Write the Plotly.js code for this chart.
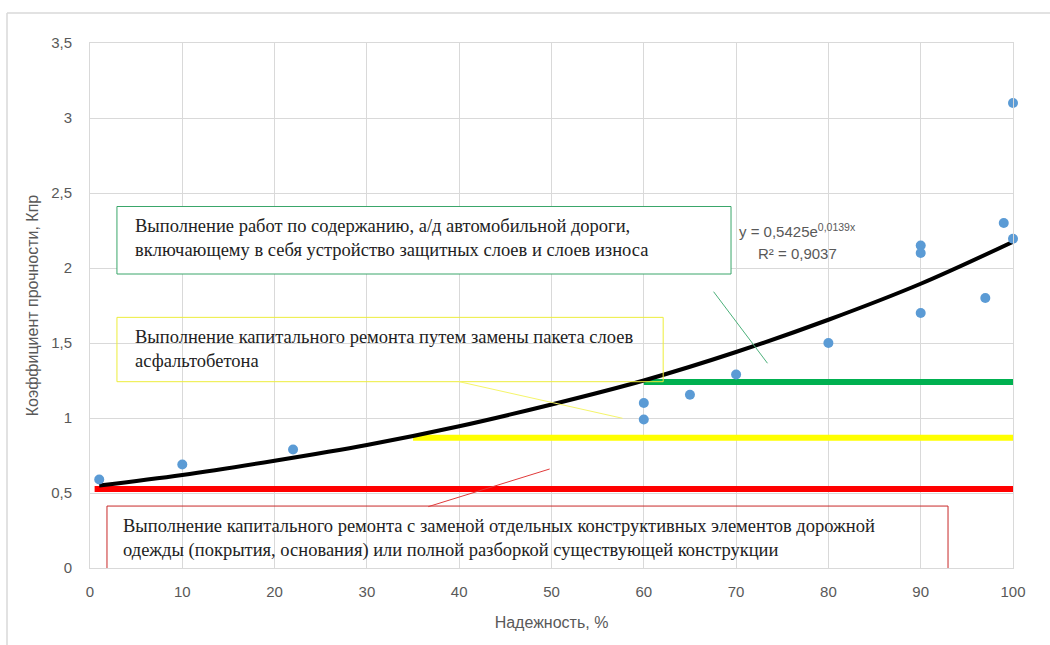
<!DOCTYPE html>
<html>
<head>
<meta charset="utf-8">
<script src="https://cdn.plot.ly/plotly-3.0.1.min.js"></script>
<style>
  html, body { margin: 0; padding: 0; background: #ffffff; }
  #chart { width: 1050px; height: 645px; }
</style>
</head>
<body>
<div id="chart"></div>
<script>
// Observed data points (reliability %, strength coefficient)
const pointsX = [1, 10, 22, 60, 60, 65, 70, 80, 90, 90, 90, 97, 99, 100, 100];
const pointsY = [0.59, 0.69, 0.79, 1.10, 0.99, 1.155, 1.29, 1.50, 2.15, 2.10, 1.70, 1.80, 2.30, 2.195, 3.10];

// Exponential trendline
const trendX = [1, 10, 20, 30, 40, 50, 60, 70, 80, 90, 100];
const trendY = [0.55, 0.62, 0.715, 0.82, 0.945, 1.09, 1.25, 1.44, 1.655, 1.895, 2.175];

// Threshold lines
const redX = [0.5, 100];    const redY = [0.527, 0.527];
const yellowX = [35, 100];  const yellowY = [0.868, 0.868];
const greenX = [60, 100];   const greenY = [1.24, 1.24];

// Texts
const xTitle = "Надежность, %";
const yTitle = "Коэффициент прочности, Кпр";
const greenText = "Выполнение работ по содержанию, а/д автомобильной дороги,<br>включающему в себя устройство защитных слоев и слоев износа";
const yellowText = "Выполнение капитального ремонта путем замены пакета слоев<br>асфальтобетона";
const redText = "Выполнение капитального ремонта с заменой отдельных конструктивных элементов дорожной<br>одежды (покрытия, основания) или полной разборкой существующей конструкции";
const eqText = "y = 0,5425e<sup>0,0139x</sup>";
const r2Text = "R² = 0,9037";

const traces = [
  { x: redX, y: redY, mode: 'lines', line: { color: '#ff0000', width: 6 }, hoverinfo: 'skip' },
  { x: yellowX, y: yellowY, mode: 'lines', line: { color: '#ffff00', width: 6 }, hoverinfo: 'skip' },
  { x: greenX, y: greenY, mode: 'lines', line: { color: '#00b050', width: 6 }, hoverinfo: 'skip' },
  { x: trendX, y: trendY, mode: 'lines', line: { color: '#000000', width: 4, shape: 'spline' }, hoverinfo: 'skip' },
  { x: pointsX, y: pointsY, mode: 'markers', marker: { color: '#5b9bd5', size: 10 }, cliponaxis: false }
];

const sans = "'Liberation Sans', Arial, sans-serif";
const serif = "'Liberation Serif', 'Times New Roman', serif";

const layout = {
  width: 1050, height: 645,
  margin: { l: 90, r: 37, t: 43, b: 77 },
  paper_bgcolor: '#ffffff', plot_bgcolor: '#ffffff',
  showlegend: false,
  font: { family: sans, color: '#595959', size: 15 },
  xaxis: {
    range: [0, 100], dtick: 10, tick0: 0,
    showgrid: true, gridcolor: '#d9d9d9', gridwidth: 1,
    zeroline: false, showline: true, mirror: true, linecolor: '#d9d9d9', linewidth: 1,
    ticks: '', ticklabelstandoff: 10,
    tickfont: { family: sans, size: 15, color: '#595959' },
    title: { text: xTitle, font: { family: sans, size: 16, color: '#595959' }, standoff: 17 }
  },
  yaxis: {
    range: [0, 3.5], dtick: 0.5, tick0: 0,
    showgrid: true, gridcolor: '#d9d9d9', gridwidth: 1,
    zeroline: false, showline: true, mirror: true, linecolor: '#d9d9d9', linewidth: 1,
    ticks: '', ticklabelstandoff: 14,
    tickfont: { family: sans, size: 15, color: '#595959' },
    title: { text: yTitle, font: { family: sans, size: 16, color: '#595959' }, standoff: 8 }
  },
  separators: ', ',
  shapes: [
    // outer frame (top & left visible)
    { type: 'line', xref: 'paper', yref: 'paper', x0: -83/923, x1: 1 + 40/923, y0: 555/525, y1: 555/525, line: { color: '#d9d9d9', width: 1.5 } },
    { type: 'line', xref: 'paper', yref: 'paper', x0: -83/923, x1: -83/923, y0: 555/525, y1: -80/525, line: { color: '#d9d9d9', width: 1.5 } },
    // boxes
    { type: 'rect', xref: 'x', yref: 'y', x0: 2.92, x1: 69.45, y0: 1.96, y1: 2.41, line: { color: '#3aa66a', width: 1 }, fillcolor: 'rgba(255,255,255,1)', layer: 'above' },
    { type: 'rect', xref: 'x', yref: 'y', x0: 2.92, x1: 62.1, y0: 1.242, y1: 1.671, line: { color: '#eded3a', width: 1 }, fillcolor: 'rgba(0,0,0,0)', layer: 'above' },
    { type: 'rect', xref: 'x', yref: 'y', x0: 1.84, x1: 92.96, y0: -0.02, y1: 0.413, line: { color: '#c82828', width: 1 }, fillcolor: 'rgba(0,0,0,0)', layer: 'above' },
    // leader lines
    { type: 'line', xref: 'x', yref: 'y', x0: 67.56, y0: 1.842, x1: 73.4, y1: 1.365, line: { color: '#4cb07a', width: 1 } },
    { type: 'line', xref: 'x', yref: 'y', x0: 40.0, y0: 1.242, x1: 57.7, y1: 0.998, line: { color: '#f5f56a', width: 1 } },
    { type: 'line', xref: 'x', yref: 'y', x0: 36.65, y0: 0.409, x1: 49.8, y1: 0.66, line: { color: '#e03a3a', width: 1 } }
  ],
  annotations: [
    { xref: 'x', yref: 'y', x: 4.66, y: 2.197, xanchor: 'left', yanchor: 'middle', align: 'left', showarrow: false,
      text: greenText, font: { family: serif, size: 18.5, color: '#222222' } },
    { xref: 'x', yref: 'y', x: 4.66, y: 1.457, xanchor: 'left', yanchor: 'middle', align: 'left', showarrow: false,
      text: yellowText, font: { family: serif, size: 18.5, color: '#222222' } },
    { xref: 'x', yref: 'y', x: 3.36, y: 0.20, xanchor: 'left', yanchor: 'middle', align: 'left', showarrow: false,
      text: redText, font: { family: serif, size: 18.5, color: '#222222' } },
    { xref: 'x', yref: 'y', x: 76.6, y: 2.247, xanchor: 'center', yanchor: 'middle', showarrow: false,
      text: eqText, font: { family: sans, size: 15, color: '#595959' } },
    { xref: 'x', yref: 'y', x: 76.6, y: 2.1, xanchor: 'center', yanchor: 'middle', showarrow: false,
      text: r2Text, font: { family: sans, size: 15, color: '#595959' } }
  ]
};

Plotly.newPlot('chart', traces, layout, { displayModeBar: false, staticPlot: true });
</script>
</body>
</html>
